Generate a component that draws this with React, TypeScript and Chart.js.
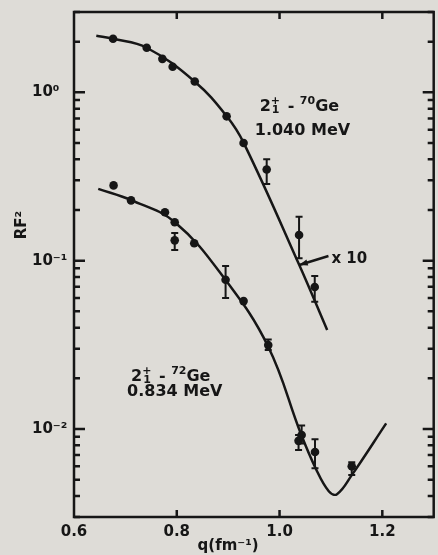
import React, { useEffect, useRef } from 'react';
import { Chart, registerables } from 'chart.js';

Chart.register(...registerables);

// ---- data ----
// 70Ge (x10) measured points
const upperQ = [0.676, 0.7415, 0.772, 0.792, 0.835, 0.897, 0.93, 0.975, 1.038, 1.0685];
const upperV = [2.08, 1.84, 1.58, 1.42, 1.16, 0.72, 0.5, 0.348, 0.142, 0.0697];
const upperHi: (number | null)[] = [null, null, null, null, null, null, null, 0.4, 0.182, 0.081];
const upperLo: (number | null)[] = [null, null, null, null, null, null, null, 0.285, 0.1035, 0.057];

// 72Ge measured points
const lowerQ = [0.677, 0.711, 0.777, 0.796, 0.796, 0.834, 0.895, 0.93, 0.978, 1.043, 1.037, 1.069, 1.1405];
const lowerV = [0.28, 0.228, 0.194, 0.169, 0.132, 0.127, 0.077, 0.0575, 0.0315, 0.0092, 0.0085, 0.0073, 0.006];
const lowerHi: (number | null)[] = [null, null, null, null, 0.146, null, 0.093, null, 0.034, 0.0105, 0.0092, 0.0087, 0.00635];
const lowerLo: (number | null)[] = [null, null, null, null, 0.1156, null, 0.06, null, 0.0295, 0.0082, 0.0075, 0.00585, 0.00532];

// calculated curves
const upperCurveQ = [0.6434, 0.6759, 0.7415, 0.8352, 0.8969, 0.9302, 1.0384, 1.0927];
const upperCurveV = [2.168, 2.08, 1.84, 1.156, 0.723, 0.501, 0.0942, 0.0387];

const lowerCurveQ = [0.6472, 0.7109, 0.7964, 0.895, 0.978, 1.0417, 1.0704, 1.0958, 1.1118, 1.1405, 1.2075];
const lowerCurveV = [0.267, 0.229, 0.169, 0.0767, 0.0308, 0.00933, 0.00583, 0.00427, 0.0041, 0.00532, 0.0108];

// axes
const xTicks = [0.6, 0.8, 1.0, 1.2];
const xTickLabels = ['0.6', '0.8', '1.0', '1.2'];
const yTicks = [0.01, 0.1, 1];
const yTickLabels = ['10\u207B\u00B2', '10\u207B\u00B9', '10\u2070'];
const xTitle = 'q(fm\u207B\u00B9)';
const yTitle = 'RF\u00B2';

// annotations (data coords of text baseline-left)
const upperLabelPos = [0.9614, 0.774];
const upperLabel2Pos = [0.9518, 0.557];
const upperLabel2 = '1.040 MeV';
const lowerLabelPos = [0.711, 0.01923];
const lowerLabel2Pos = [0.7033, 0.01567];
const lowerLabel2 = '0.834 MeV';
const timesLabel = 'x 10';
const timesLabelPos = [1.101, 0.097];
const arrowTail = [1.0952, 0.1065];
const arrowHead = [1.0384, 0.0942];

const INK = '#161616';
const BG = '#dedcd7';
const FONT = '"DejaVu Sans", "Liberation Sans", sans-serif';

type Seg = { t: string; k?: 'sup' | 'stack'; t2?: string };

function drawRich(ctx: CanvasRenderingContext2D, x: number, y: number, segs: Seg[], size: number) {
  const big = `bold ${size}px ${FONT}`;
  const small = `bold ${Math.round(size * 0.68)}px ${FONT}`;
  ctx.textBaseline = 'alphabetic';
  ctx.textAlign = 'left';
  let cx = x;
  for (const s of segs) {
    if (!s.k) {
      ctx.font = big;
      ctx.fillText(s.t, cx, y);
      cx += ctx.measureText(s.t).width;
    } else if (s.k === 'sup') {
      ctx.font = small;
      ctx.fillText(s.t, cx, y - size * 0.42);
      cx += ctx.measureText(s.t).width;
    } else {
      ctx.font = small;
      ctx.fillText(s.t, cx, y - size * 0.44);
      const w1 = ctx.measureText(s.t).width;
      ctx.fillText(s.t2 || '', cx + 1, y + size * 0.1);
      const w2 = ctx.measureText(s.t2 || '').width;
      cx += Math.max(w1, w2) + 2;
    }
  }
}

const decorPlugin = {
  id: 'decor',
  afterDatasetsDraw(chart: any) {
    const { ctx, chartArea: a, scales } = chart;
    const xs = scales.x;
    const ys = scales.y;
    ctx.save();
    ctx.strokeStyle = INK;
    ctx.fillStyle = INK;

    // error bars
    const bars = (qs: number[], hi: (number | null)[], lo: (number | null)[]) => {
      ctx.lineWidth = 2;
      for (let i = 0; i < qs.length; i++) {
        const h = hi[i];
        const l = lo[i];
        if (h == null || l == null) continue;
        const px = xs.getPixelForValue(qs[i]);
        const py1 = ys.getPixelForValue(h);
        const py2 = ys.getPixelForValue(l);
        ctx.beginPath();
        ctx.moveTo(px, py1);
        ctx.lineTo(px, py2);
        ctx.moveTo(px - 3.5, py1);
        ctx.lineTo(px + 3.5, py1);
        ctx.moveTo(px - 3.5, py2);
        ctx.lineTo(px + 3.5, py2);
        ctx.stroke();
      }
    };
    bars(upperQ, upperHi, upperLo);
    bars(lowerQ, lowerHi, lowerLo);

    // frame
    ctx.lineWidth = 2.5;
    ctx.strokeRect(a.left, a.top, a.right - a.left, a.bottom - a.top);

    // y ticks (major + minor), inward on both sides
    ctx.lineWidth = 2.5;
    for (let d = -3; d <= 0; d++) {
      for (let m = 1; m <= 9; m++) {
        const v = m * Math.pow(10, d);
        if (v < ys.min * 0.999 || v > ys.max * 1.001) continue;
        const py = ys.getPixelForValue(v);
        const len = m === 1 ? 11 : 6;
        ctx.beginPath();
        ctx.moveTo(a.left, py);
        ctx.lineTo(a.left + len, py);
        ctx.moveTo(a.right, py);
        ctx.lineTo(a.right - len, py);
        ctx.stroke();
      }
    }
    // x ticks inward top and bottom
    for (const v of xTicks) {
      const px = xs.getPixelForValue(v);
      if (px <= a.left + 1) continue;
      ctx.beginPath();
      ctx.moveTo(px, a.bottom);
      ctx.lineTo(px, a.bottom - 7);
      ctx.moveTo(px, a.top);
      ctx.lineTo(px, a.top + 7);
      ctx.stroke();
    }

    // arrow for "x 10"
    const tx = xs.getPixelForValue(arrowTail[0]);
    const ty = ys.getPixelForValue(arrowTail[1]);
    const hx = xs.getPixelForValue(arrowHead[0]);
    const hy = ys.getPixelForValue(arrowHead[1]);
    ctx.lineWidth = 2.5;
    ctx.beginPath();
    ctx.moveTo(tx, ty);
    ctx.lineTo(hx, hy);
    ctx.stroke();
    const ang = Math.atan2(hy - ty, hx - tx);
    ctx.beginPath();
    ctx.moveTo(hx, hy);
    ctx.lineTo(hx - 9 * Math.cos(ang - 0.35), hy - 9 * Math.sin(ang - 0.35));
    ctx.lineTo(hx - 9 * Math.cos(ang + 0.35), hy - 9 * Math.sin(ang + 0.35));
    ctx.closePath();
    ctx.fill();

    // annotations
    const at = (p: number[]) => [xs.getPixelForValue(p[0]), ys.getPixelForValue(p[1])];
    let p = at(upperLabelPos);
    drawRich(ctx, p[0], p[1], [{ t: '2' }, { t: '+', k: 'stack', t2: '1' }, { t: ' - ' }, { t: '70', k: 'sup' }, { t: 'Ge' }], 16);
    p = at(upperLabel2Pos);
    drawRich(ctx, p[0], p[1], [{ t: upperLabel2 }], 16);
    p = at(lowerLabelPos);
    drawRich(ctx, p[0], p[1], [{ t: '2' }, { t: '+', k: 'stack', t2: '1' }, { t: ' - ' }, { t: '72', k: 'sup' }, { t: 'Ge' }], 16);
    p = at(lowerLabel2Pos);
    drawRich(ctx, p[0], p[1], [{ t: lowerLabel2 }], 16);
    p = at(timesLabelPos);
    drawRich(ctx, p[0], p[1], [{ t: timesLabel }], 15);

    // axis titles
    ctx.font = `bold 15px ${FONT}`;
    ctx.textAlign = 'center';
    ctx.textBaseline = 'middle';
    ctx.fillText(xTitle, xs.getPixelForValue(0.9), a.bottom + 29);
    ctx.save();
    ctx.translate(a.left - 52, ys.getPixelForValue(0.1626));
    ctx.rotate(-Math.PI / 2);
    ctx.fillText(yTitle, 0, 0);
    ctx.restore();

    ctx.restore();
  },
};

export default function App() {
  const ref = useRef<HTMLCanvasElement | null>(null);

  useEffect(() => {
    if (!ref.current) return;
    const pts = (qs: number[], vs: number[]) => qs.map((q, i) => ({ x: q, y: vs[i] }));
    const tickFont = { family: FONT, weight: 'bold' as const, size: 15 };
    const chart = new Chart(ref.current, {
      type: 'scatter',
      data: {
        datasets: [
          {
            data: pts(upperCurveQ, upperCurveV),
            showLine: true,
            borderColor: INK,
            borderWidth: 2.5,
            pointRadius: 0,
            tension: 0.4,
          },
          {
            data: pts(lowerCurveQ, lowerCurveV),
            showLine: true,
            borderColor: INK,
            borderWidth: 2.5,
            pointRadius: 0,
            tension: 0.4,
          },
          {
            data: pts(upperQ, upperV),
            pointRadius: 4.3,
            pointBackgroundColor: INK,
            pointBorderColor: INK,
            pointBorderWidth: 0,
          },
          {
            data: pts(lowerQ, lowerV),
            pointRadius: 4.3,
            pointBackgroundColor: INK,
            pointBorderColor: INK,
            pointBorderWidth: 0,
          },
        ],
      } as any,
      options: {
        animation: false,
        responsive: false,
        events: [],
        layout: { padding: { left: 32, top: 12, right: 1, bottom: 0 } },
        plugins: { legend: { display: false }, tooltip: { enabled: false } },
        scales: {
          x: {
            type: 'linear',
            min: 0.6,
            max: 1.3,
            afterBuildTicks: (s: any) => {
              s.ticks = xTicks.map((v) => ({ value: v }));
            },
            afterFit: (s: any) => {
              s.height = 38;
            },
            grid: { display: false },
            border: { display: false },
            ticks: {
              autoSkip: false,
              maxRotation: 0,
              padding: -2,
              color: INK,
              font: tickFont,
              callback: (_v: any, i: number) => xTickLabels[i],
            },
          },
          y: {
            type: 'logarithmic',
            min: 0.003,
            max: 3,
            afterBuildTicks: (s: any) => {
              s.ticks = yTicks.map((v) => ({ value: v }));
            },
            afterFit: (s: any) => {
              s.width = 42;
            },
            grid: { display: false },
            border: { display: false },
            ticks: {
              autoSkip: false,
              crossAlign: 'far',
              color: INK,
              font: tickFont,
              callback: (_v: any, i: number) => yTickLabels[i],
            },
          },
        },
      } as any,
      plugins: [decorPlugin],
    });
    return () => chart.destroy();
  }, []);

  return (
    <div style={{ position: 'fixed', left: 0, top: 0, width: 438, height: 555, background: BG }}>
      <canvas ref={ref} width={438} height={555} style={{ display: 'block', width: 438, height: 555 }} />
    </div>
  );
}
